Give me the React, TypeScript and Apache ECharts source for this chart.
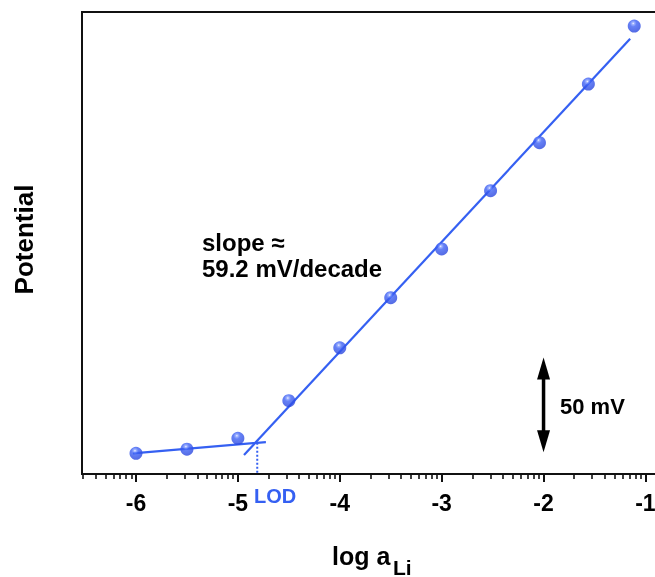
import React, { useEffect, useRef } from "react";
import * as echarts from "echarts";

// log a(Li) of each measured point and its potential (mV, relative)
const logA = [-6, -5.5, -5, -4.5, -4, -3.5, -3, -2.52, -2.04, -1.56, -1.11];
const potential = [11.2, 13.4, 19.3, 39.7, 68.3, 95.4, 121.8, 153.3, 179.3, 211.0, 242.4];

// fitted lines (end points)
const highFitX = [-4.94, -1.15];
const highFitY = [10.3, 235.5];
const lowFitX = [-6.03, -4.725];
const lowFitY = [11.2, 17.3];

// limit of detection
const lodX = -4.81;
const lodY = [16.9, 0];

// scale arrow (50 mV)
const arrowX = -2;
const arrowBottom = 11.8;
const arrowTop = 63.0;

// axis ticks
const majorTicks = [-6, -5, -4, -3, -2, -1];
const minorDecades = [-7, -6, -5, -4, -3, -2, -1];
const minorFactors = [2, 3, 4, 5, 6, 7, 8, 9];

const X_MIN = -6.53;
const X_MAX = -0.7;

const BLUE = "#3560f2";
const FONT = "'Liberation Sans', Arial, Helvetica, sans-serif";

export default function App() {
  const ref = useRef<HTMLDivElement>(null);

  useEffect(() => {
    document.body.style.margin = "0";
    document.body.style.overflow = "hidden";
    document.documentElement.style.overflow = "hidden";
    if (!ref.current) return;
    const chart = echarts.init(ref.current, null, { renderer: "svg" });

    const minorTicks: number[] = [];
    minorDecades.forEach((d) =>
      minorFactors.forEach((k) => {
        const v = d + Math.log10(k);
        if (v > X_MIN && v < X_MAX) minorTicks.push(v);
      })
    );

    const points = logA.map((x, i) => [x, potential[i]]);
    const highFit = highFitX.map((x, i) => [x, highFitY[i]]);
    const lowFit = lowFitX.map((x, i) => [x, lowFitY[i]]);
    const lodLine = lodY.map((y) => [lodX, y]);

    chart.setOption({
      animation: false,
      grid: {
        left: 82,
        top: 12,
        right: 24,
        bottom: 103,
        show: true,
        borderColor: "#111",
        borderWidth: 2,
        backgroundColor: "transparent",
      },
      xAxis: [
        {
          type: "value",
          min: X_MIN,
          max: X_MAX,
          position: "bottom",
          axisLine: { show: true, onZero: false, lineStyle: { color: "#111", width: 2 } },
          axisTick: {
            show: true,
            length: 8,
            customValues: majorTicks,
            lineStyle: { color: "#111", width: 2 },
          },
          axisLabel: {
            customValues: majorTicks,
            fontSize: 23,
            fontWeight: "bold",
            fontFamily: FONT,
            color: "#000",
            margin: 17,
            formatter: (v: number) => String(v),
          },
          splitLine: { show: false },
        },
        {
          type: "value",
          min: X_MIN,
          max: X_MAX,
          position: "bottom",
          axisLine: { show: false, onZero: false },
          axisTick: {
            show: true,
            length: 5,
            customValues: minorTicks,
            lineStyle: { color: "#111", width: 1.6 },
          },
          axisLabel: { show: false },
          splitLine: { show: false },
        },
      ],
      yAxis: {
        type: "value",
        min: 0,
        max: 250,
        axisLine: { show: true, onZero: false, lineStyle: { color: "#111", width: 2 } },
        axisTick: { show: false },
        axisLabel: { show: false },
        splitLine: { show: false },
      },
      series: [
        {
          type: "line",
          data: lowFit,
          symbol: "none",
          lineStyle: { color: BLUE, width: 2.2 },
          z: 2,
        },
        {
          type: "line",
          data: highFit,
          symbol: "none",
          lineStyle: { color: BLUE, width: 2.2 },
          z: 2,
        },
        {
          type: "line",
          data: lodLine,
          symbol: "none",
          lineStyle: { color: BLUE, width: 2, type: [2, 2] },
          z: 2,
        },
        {
          type: "custom",
          data: [[arrowX, arrowBottom, arrowTop]],
          encode: { x: 0, y: [1, 2] },
          renderItem: (params: any, api: any) => {
            const x = api.value(0);
            const b = api.coord([x, api.value(1)]);
            const t = api.coord([x, api.value(2)]);
            const headL = 22;
            const headW = 6.5;
            return {
              type: "group",
              children: [
                {
                  type: "line",
                  shape: { x1: t[0], y1: t[1] + headL - 2, x2: b[0], y2: b[1] - headL + 2 },
                  style: { stroke: "#000", lineWidth: 3.5 },
                },
                {
                  type: "polygon",
                  shape: {
                    points: [
                      [t[0], t[1]],
                      [t[0] - headW, t[1] + headL],
                      [t[0] + headW, t[1] + headL],
                    ],
                  },
                  style: { fill: "#000" },
                },
                {
                  type: "polygon",
                  shape: {
                    points: [
                      [b[0], b[1]],
                      [b[0] - headW, b[1] - headL],
                      [b[0] + headW, b[1] - headL],
                    ],
                  },
                  style: { fill: "#000" },
                },
              ],
            };
          },
          z: 3,
        },
        {
          type: "scatter",
          data: points,
          symbol: "circle",
          symbolSize: 13,
          itemStyle: {
            color: {
              type: "radial",
              x: 0.42,
              y: 0.3,
              r: 0.72,
              colorStops: [
                { offset: 0, color: "#f4f6ff" },
                { offset: 0.12, color: "#8aa2ff" },
                { offset: 0.35, color: "#3f62f4" },
                { offset: 1, color: "#2844dc" },
              ],
            },
          },
          z: 5,
        },
      ],
      graphic: [
        {
          type: "text",
          x: 24,
          y: 239.5,
          rotation: Math.PI / 2,
          style: {
            text: "Potential",
            align: "center",
            verticalAlign: "middle",
            fontSize: 26,
            fontWeight: "bold",
            fontFamily: FONT,
            fill: "#000",
          },
        },
        {
          type: "text",
          x: 332,
          y: 556,
          style: {
            text: "log a",
            align: "left",
            verticalAlign: "middle",
            fontSize: 25,
            fontWeight: "bold",
            fontFamily: FONT,
            fill: "#000",
          },
        },
        {
          type: "text",
          x: 393,
          y: 567,
          style: {
            text: "Li",
            align: "left",
            verticalAlign: "middle",
            fontSize: 21,
            fontWeight: "bold",
            fontFamily: FONT,
            fill: "#000",
          },
        },
        {
          type: "text",
          x: 202,
          y: 242,
          style: {
            text: "slope \u2248",
            align: "left",
            verticalAlign: "middle",
            fontSize: 24,
            fontWeight: "bold",
            fontFamily: FONT,
            fill: "#000",
          },
        },
        {
          type: "text",
          x: 202,
          y: 268,
          style: {
            text: "59.2 mV/decade",
            align: "left",
            verticalAlign: "middle",
            fontSize: 24,
            fontWeight: "bold",
            fontFamily: FONT,
            fill: "#000",
          },
        },
        {
          type: "text",
          x: 560,
          y: 406,
          style: {
            text: "50 mV",
            align: "left",
            verticalAlign: "middle",
            fontSize: 22,
            fontWeight: "bold",
            fontFamily: FONT,
            fill: "#000",
          },
        },
        {
          type: "text",
          x: 254,
          y: 495.5,
          style: {
            text: "LOD",
            align: "left",
            verticalAlign: "middle",
            fontSize: 20,
            fontWeight: "bold",
            fontFamily: FONT,
            fill: BLUE,
          },
        },
      ],
    });

    return () => chart.dispose();
  }, []);

  return (
    <div
      ref={ref}
      style={{ position: "fixed", left: 0, top: 0, width: 700, height: 577 }}
    />
  );
}
